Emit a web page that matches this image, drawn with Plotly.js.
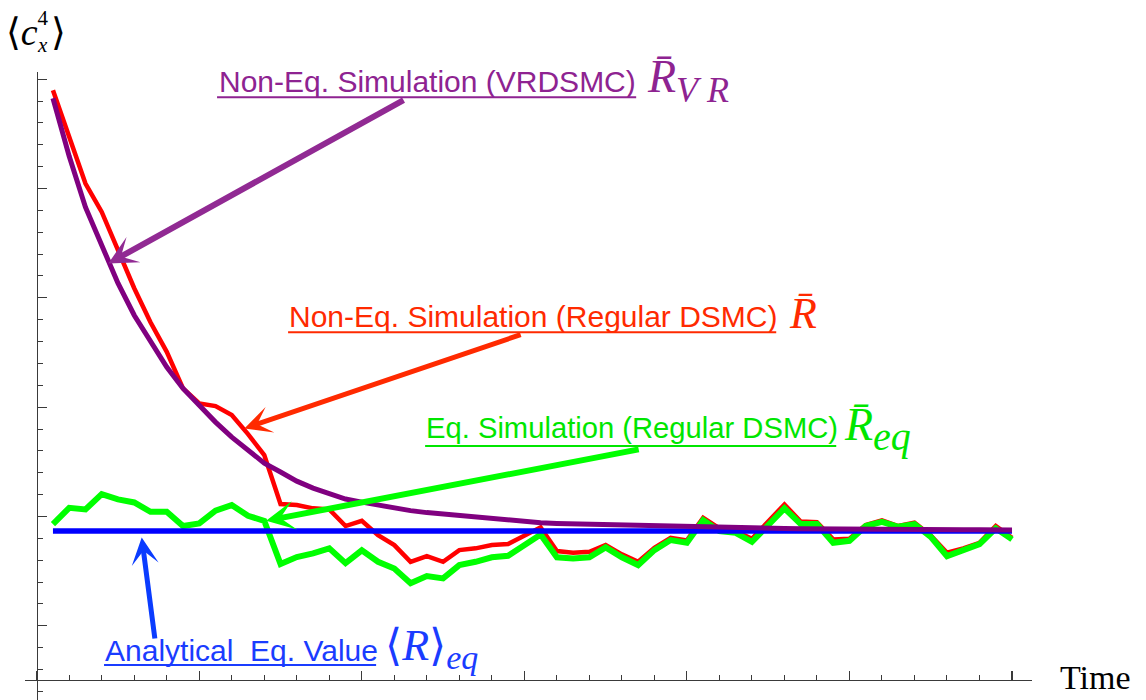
<!DOCTYPE html>
<html>
<head>
<meta charset="utf-8">
<script src="https://cdn.plot.ly/plotly-3.0.1.min.js"></script>
<style>
html,body{margin:0;padding:0;background:#fff;}
#chart{width:1146px;height:700px;}
</style>
</head>
<body>
<div id="chart"></div>
<script>
// ---- data ----
const time = [0.1,0.2,0.3,0.4,0.5,0.6,0.7,0.8,0.9,1.0,
              1.1,1.2,1.3,1.4,1.5,1.6,1.7,1.8,1.9,2.0,
              2.1,2.2,2.3,2.4,2.5,2.6,2.7,2.8,2.9,3.0,
              3.1,3.2,3.3,3.4,3.5,3.6,3.7,3.8,3.9,4.0,
              4.1,4.2,4.3,4.4,4.5,4.6,4.7,4.8,4.9,5.0,
              5.1,5.2,5.3,5.4,5.5,5.6,5.7,5.8,5.9,6.0];

// Non-Eq. Simulation (Regular DSMC)  R-bar
const nonEqRegular = [4.899,4.478,4.046,3.786,3.436,3.088,2.777,2.506,2.171,2.034,
                      2.009,1.927,1.753,1.561,1.113,1.104,1.074,1.064,0.912,0.960,
                      0.829,0.738,0.585,0.637,0.585,0.692,0.708,0.738,0.747,0.820,
                      0.900,0.683,0.668,0.677,0.738,0.653,0.585,0.713,0.805,0.781,
                      0.988,0.891,0.866,0.796,0.957,1.110,0.953,0.948,0.790,0.796,
                      0.921,0.964,0.912,0.942,0.827,0.668,0.708,0.759,0.912,0.805];

// Eq. Simulation (Regular DSMC)  R-bar_eq
const eqRegular = [0.930,1.079,1.064,1.204,1.156,1.128,1.043,1.043,0.912,0.936,
                   1.052,1.104,1.006,0.960,0.564,0.628,0.662,0.708,0.573,0.690,
                   0.585,0.523,0.388,0.454,0.433,0.555,0.585,0.626,0.640,0.729,
                   0.834,0.626,0.616,0.626,0.717,0.626,0.555,0.692,0.784,0.759,
                   0.967,0.866,0.850,0.768,0.921,1.074,0.930,0.930,0.759,0.777,
                   0.912,0.951,0.905,0.930,0.814,0.637,0.692,0.747,0.891,0.790];

// Non-Eq. Simulation (VRDSMC)  R-bar_VR
const nonEqVR = [4.826,4.295,3.829,3.472,3.134,2.841,2.594,2.366,2.171,2.009,
                 1.863,1.726,1.607,1.488,1.406,1.323,1.259,1.204,1.159,1.131,
                 1.104,1.076,1.053,1.035,1.021,1.003,0.991,0.979,0.969,0.953,
                 0.942,0.936,0.932,0.927,0.923,0.919,0.915,0.912,0.907,0.904,
                 0.900,0.897,0.894,0.893,0.891,0.889,0.887,0.885,0.884,0.883,
                 0.882,0.882,0.881,0.880,0.879,0.879,0.878,0.878,0.877,0.877];

// Analytical equilibrium value <R>_eq
const analyticalEq = 0.866;
const eqSpan = [0.1, 6.0];

// ---- layout geometry ----
const W = 1146, H = 700;
const M = {l: 25, r: 114.3, t: 71.7, b: 0};
const xMin = -0.072, xMax = 6.123;
const yMin = -0.6795, yMax = 5.0663;
const xOrigin = 0, yOrigin = -0.497;

const plotW = W - M.l - M.r, plotH = H - M.t - M.b;
const px = p => (p - M.l) / plotW;          // pixel -> paper x
const py = p => (H - M.b - p) / plotH;      // pixel -> paper y

const AX = '#3a3a3a';
const sansFont = 'Liberation Sans, Arial, sans-serif';
const serifFont = 'Liberation Serif, Times New Roman, DejaVu Serif, serif';

const traces = [
  {x: time, y: nonEqRegular, type: 'scatter', mode: 'lines',
   line: {color: '#ff0000', width: 4.5}, hoverinfo: 'skip'},
  {x: time, y: eqRegular, type: 'scatter', mode: 'lines',
   line: {color: '#00ff00', width: 6}, hoverinfo: 'skip'},
  {x: eqSpan, y: [analyticalEq, analyticalEq], type: 'scatter', mode: 'lines',
   line: {color: '#0000ff', width: 5.5}, hoverinfo: 'skip'},
  {x: time, y: nonEqVR, type: 'scatter', mode: 'lines',
   line: {color: '#800080', width: 5}, hoverinfo: 'skip'}
];

function label(x, y, text, color, size, family, pad) {
  return {xref: 'paper', yref: 'paper', x: px(x), y: py(y), xanchor: 'left', yanchor: 'middle',
          text: text, showarrow: false, borderpad: pad === undefined ? 1 : pad,
          font: {family: family, size: size, color: color}};
}
function arrow(x, y, ax, ay, color, width, size) {
  return {xref: 'x', yref: 'y', axref: 'x', ayref: 'y', x: x, y: y, ax: ax, ay: ay,
          text: '', showarrow: true, arrowhead: 3, arrowsize: size, arrowwidth: width,
          arrowcolor: color, standoff: 0, startstandoff: 0};
}
function underline(x0, x1, y, color) {
  return {type: 'line', xref: 'paper', yref: 'paper', x0: px(x0), x1: px(x1), y0: py(y), y1: py(y),
          line: {color: color, width: 2}};
}
const sub = (t, size) => '<sub><span style="font-size:' + size + 'px"><i>' + t + '</i></span></sub>';

const purpleTxt = '#8e2391', redTxt = '#ff2a00', greenTxt = '#00e600', blueTxt = '#1a3cff';

const annotations = [
  arrow(0.4406, 3.314, 2.266, 4.817, '#912a93', 6, 0.8),
  arrow(1.2775, 1.805, 2.9865, 2.6676, '#ff2a00', 5, 0.9),
  arrow(1.411, 0.960, 3.7126, 1.616, '#00ff00', 6, 0.8),
  arrow(0.646, 0.808, 0.728, -0.131, '#0a3cff', 5, 0.9),

  label(217, 81, 'Non-Eq. Simulation (VRDSMC)', purpleTxt, 30, sansFont),
  label(645, 80, '<i>R\u0304</i>' + sub('V\u00a0R', 36), purpleTxt, 46, serifFont),

  label(287, 316, 'Non-Eq. Simulation (Regular DSMC)', redTxt, 30, sansFont),
  label(787, 313, '<i>R\u0304</i>', redTxt, 44, serifFont),

  label(424, 428, 'Eq. Simulation (Regular DSMC)', greenTxt, 29.2, sansFont),
  label(842, 429, '<i>R\u0304</i>' + sub('eq', 40), greenTxt, 46, serifFont),

  label(103, 650, 'Analytical\u00a0 Eq. Value', blueTxt, 30, sansFont),
  label(383, 648, '\u27e8<i>R</i>\u27e9' + sub('eq', 34), blueTxt, 44, serifFont),

  label(1058, 677, 'Time', '#000000', 34, serifFont),
  // <c_x^4>: bracket + c, stacked 4 over x, closing bracket
  label(5, 32, '\u27e8<i>c</i>', '#000000', 38, serifFont, 0),
  label(36, 31, '4<br><i>x</i>', '#000000', 21, serifFont, 0),
  label(50, 32, '\u27e9', '#000000', 38, serifFont, 0)
];

const shapes = [
  underline(217, 636, 97, purpleTxt),
  underline(288, 776, 332, redTxt),
  underline(425, 836, 446, greenTxt),
  underline(104, 376, 665, blueTxt)
];

const layout = {
  width: W, height: H,
  margin: M,
  paper_bgcolor: '#ffffff', plot_bgcolor: '#ffffff',
  showlegend: false,
  xaxis: {
    range: [xMin, xMax], anchor: 'free',
    position: (yOrigin - yMin) / (yMax - yMin),
    showline: true, linecolor: AX, linewidth: 1.3,
    ticks: 'inside', ticklen: 9, tickwidth: 1.1, tickcolor: AX,
    tick0: 0, dtick: 1, showticklabels: false,
    showgrid: false, zeroline: false, fixedrange: true,
    minor: {ticks: 'inside', ticklen: 5, tickwidth: 1, tickcolor: AX, tick0: 0, dtick: 0.2, showgrid: false}
  },
  yaxis: {
    range: [yMin, yMax], anchor: 'free',
    position: (xOrigin - xMin) / (xMax - xMin),
    showline: true, linecolor: AX, linewidth: 1.3,
    ticks: 'inside', ticklen: 9, tickwidth: 1.1, tickcolor: AX,
    tick0: 0, dtick: 1, showticklabels: false,
    showgrid: false, zeroline: false, fixedrange: true,
    minor: {ticks: 'inside', ticklen: 5, tickwidth: 1, tickcolor: AX, tick0: 0, dtick: 0.2, showgrid: false}
  },
  shapes: shapes,
  annotations: annotations
};

Plotly.newPlot('chart', traces, layout, {staticPlot: true, displayModeBar: false});
</script>
</body>
</html>
